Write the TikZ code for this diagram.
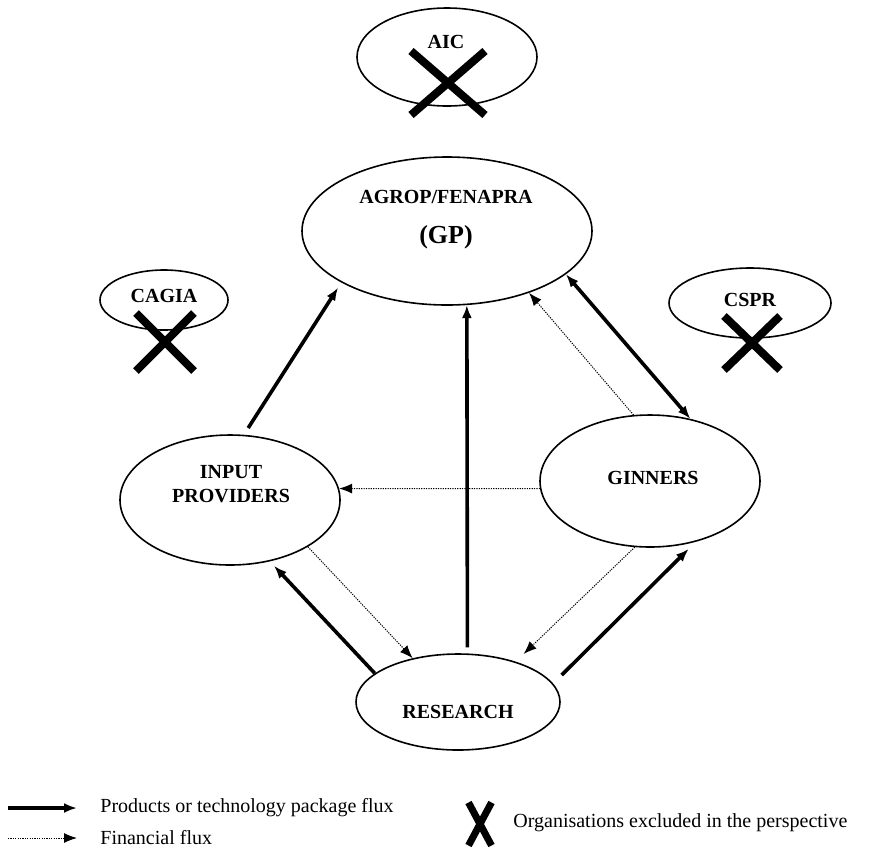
\documentclass[tikz,border=0pt]{standalone}
\usepackage{fontspec}
\setmainfont{Liberation Serif}
\usetikzlibrary{shapes, arrows.meta, positioning}
\tikzstyle{o}    = [draw, ellipse, line width=0.8pt, inner sep=0pt]
\tikzstyle{lbl}  = [inner sep=0pt, font=\bfseries]
\tikzstyle{key}  = [inner sep=0pt, anchor=west]
\tikzstyle{excl} = [draw, cross out, line width=4pt, inner sep=0pt]
\tikzstyle{flux} = [every edge/.style={draw, ->, line width=1.8pt}]
\tikzstyle{fin}  = [every edge/.style={draw, ->, line width=0.5pt, dash pattern=on 0.6pt off 0.6pt}]

\begin{document}
\begin{tikzpicture}[x=0.5pt, y=-0.5pt, >={Latex[length=6.5pt, width=5pt]}]
\useasboundingbox (0,0) rectangle (872,853);

% organisations
\node [o, minimum width=145pt, minimum height=74pt] at (447, 231) (gp)    {};
\node [o, minimum width=90pt,  minimum height=49pt] at (447,  57) (aic)   {};
\node [o, minimum width=64pt,  minimum height=30pt] at (164, 300) (cagia) {};
\node [o, minimum width=81pt,  minimum height=35pt] at (750, 303) (cspr)  {};
\node [o, minimum width=110pt, minimum height=65pt] at (230, 500) (inp)   {};
\node [o, minimum width=110pt, minimum height=66pt] at (650, 481) (gin)   {};
\node [o, minimum width=102pt, minimum height=48pt] at (458, 702) (res)   {};

% names
\node [lbl] at (446,  42) (aic-l)   {AIC};
\node [lbl] at (446, 197) (gp-l)    {AGROP/FENAPRA};
\node [lbl, font=\fontsize{13}{15}\selectfont\bfseries] at (446, 237) (gp-s) {(GP)};
\node [lbl] at (164, 296) (cagia-l) {CAGIA};
\node [lbl] at (750, 300) (cspr-l)  {CSPR};
\node [lbl, align=center, font=\fontsize{10}{12}\selectfont\bfseries] at (231, 484) (inp-l) {INPUT\\PROVIDERS};
\node [lbl] at (653, 478) (gin-l)   {GINNERS};
\node [lbl] at (458, 712) (res-l)   {RESEARCH};

% excluded
\node [excl, minimum width=33pt, minimum height=28pt] at (448,  83) (aic-x)   {};
\node [excl, minimum width=25pt, minimum height=25pt] at (165, 342) (cagia-x) {};
\node [excl, minimum width=24pt, minimum height=23pt] at (752, 343) (cspr-x)  {};

% products / technology package
\path [flux] (inp.78)  edge [shorten <=4pt, shorten >=3pt] (gp.206)
             (res.79)  edge [shorten <=3pt]                (gp.285)
             (res.161) edge [shorten >=3pt]                (inp.303)
             (res.11)  edge [shorten <=6pt, shorten >=5pt] (gin.307)
             (gp.340)  edge [<->]                          (gin.57);

% financial
\path [fin]  (gin.104) edge                   (gp.323)
             (gin.184) edge                   (inp.6)
             (inp.329) edge                   (res.136)
             (gin.257) edge [shorten >=5.5pt] (res.35);

% legend
\coordinate (k1a) at (8, 808);
\coordinate (k1b) at (77, 808);
\coordinate (k2a) at (8, 838);
\coordinate (k2b) at (77, 838);
\path [flux] (k1a) edge (k1b);
\path [fin]  (k2a) edge (k2b);
\node [key] at (100, 808) (k1) {Products or technology package flux};
\node [key] at (100, 838) (k2) {Financial flux};
\node [excl, minimum width=8pt, minimum height=18pt, line width=3.5pt] at (480, 824) (k3-x) {};
\node [key] at (513, 823) (k3) {Organisations excluded in the perspective};

\end{tikzpicture}
\end{document}
